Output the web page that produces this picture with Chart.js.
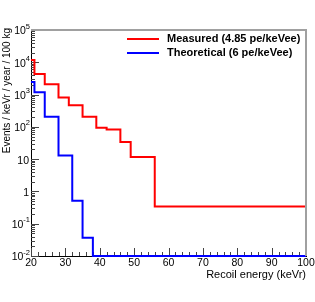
<!DOCTYPE html>
<html>
<head>
<meta charset="utf-8">
<script src="https://cdn.jsdelivr.net/npm/chart.js@4.4.0/dist/chart.umd.min.js"></script>
<style>
  body { margin: 0; background: #fff; }
  canvas { display: block; }
</style>
</head>
<body>
<canvas id="recoil-chart" width="315" height="302"></canvas>
<script>
// bin edges (keVr) and contents per bin
const measuredEdges = [20, 21, 24, 28, 31, 35, 39, 42, 46, 49, 56, 100]
const measuredValues = [11700, 4300, 2100, 810, 470, 205, 93, 83, 34, 11.7, 0.34]
const theoryEdges = [20, 21, 24, 28, 32, 35, 38, 100]
const theoryValues = [2440, 1190, 205, 12.9, 0.51, 0.037, 0.01]

const xTicks = [20, 30, 40, 50, 60, 70, 80, 90, 100]
const yDecades = [-2, -1, 0, 1, 2, 3, 4, 5]

const FONT = '"Liberation Sans", Arial, Helvetica, sans-serif'

function stepPoints(edges, values) {
  const pts = values.map((v, i) => ({x: edges[i], y: v}))
  pts.push({x: edges[edges.length-1], y: values[values.length-1]})
  return pts
}

// ROOT-like inner ticks, under the histograms
const innerTicks = {
  id: 'innerTicks',
  beforeDatasetsDraw(chart) {
    const ctx = chart.ctx
    const area = chart.chartArea
    const xs = chart.scales.x
    const ys = chart.scales.y
    ctx.save()
    ctx.strokeStyle = '#444'
    ctx.lineWidth = 1
    ctx.beginPath()
    for(let v=20; v<=100; v+=2) {
      const px = Math.round(xs.getPixelForValue(v)) + 0.5
      const len = v % 10 === 0 ? 8 : 4
      ctx.moveTo(px, area.bottom)
      ctx.lineTo(px, area.bottom-len)
    }
    for(let d=-2; d<5; d++) {
      for(let k=1; k<=9; k++) {
        const py = Math.round(ys.getPixelForValue(k*Math.pow(10, d))) + 0.5
        const len = k === 1 ? 8 : 4
        ctx.moveTo(area.left, py)
        ctx.lineTo(area.left+len, py)
      }
    }
    ctx.stroke()
    ctx.restore()
  }
}

const rootStyle = {
  id: 'rootStyle',
  afterDraw(chart) {
    const ctx = chart.ctx
    const area = chart.chartArea
    const xs = chart.scales.x
    const ys = chart.scales.y
    ctx.save()

    // grey frame top/right
    ctx.strokeStyle = '#a0a0a0'
    ctx.lineWidth = 2
    ctx.beginPath()
    ctx.moveTo(area.left, area.top)
    ctx.lineTo(area.right, area.top)
    ctx.lineTo(area.right, area.bottom)
    ctx.stroke()

    // x tick labels
    ctx.fillStyle = '#000'
    ctx.font = '10.5px ' + FONT
    ctx.textAlign = 'center'
    ctx.textBaseline = 'middle'
    xTicks.forEach(v => {
      ctx.fillText(String(v), xs.getPixelForValue(v), area.bottom + 7)
    })

    // y tick labels with superscripts
    ctx.textAlign = 'right'
    yDecades.forEach(d => {
      const py = ys.getPixelForValue(Math.pow(10, d)) + 1.5
      const right = area.left - 1
      if(d === 0 || d === 1) {
        ctx.font = '10.5px ' + FONT
        ctx.fillText(d === 0 ? '1' : '10', right - 1, py)
      } else {
        ctx.font = '7.5px ' + FONT
        const exp = String(d)
        const ew = ctx.measureText(exp).width
        ctx.fillText(exp, right, py-5)
        ctx.font = '10.5px ' + FONT
        ctx.fillText('10', right-ew, py)
      }
    })

    // axis titles
    ctx.font = '11px ' + FONT
    ctx.textAlign = 'right'
    ctx.textBaseline = 'alphabetic'
    ctx.fillText('Recoil energy (keVr)', area.right, 278)
    ctx.font = '10px ' + FONT
    ctx.save()
    ctx.translate(10, area.top-2)
    ctx.rotate(-Math.PI/2)
    ctx.fillText('Events / keVr / year / 100 kg', 0, 0)
    ctx.restore()

    // legend
    const entries = [
      {label: 'Measured (4.85 pe/keVee)', color: '#ff0000', y: 39},
      {label: 'Theoretical (6 pe/keVee)', color: '#0000ff', y: 53}
    ]
    ctx.font = 'bold 11px ' + FONT
    ctx.textAlign = 'left'
    ctx.textBaseline = 'middle'
    entries.forEach(e => {
      ctx.strokeStyle = e.color
      ctx.lineWidth = 2
      ctx.beginPath()
      ctx.moveTo(127, e.y)
      ctx.lineTo(159, e.y)
      ctx.stroke()
      ctx.fillStyle = '#000'
      ctx.fillText(e.label, 167, e.y)
    })
    ctx.restore()
  }
}

const context = document.getElementById('recoil-chart').getContext('2d')
new Chart(context, {
  type: 'line',
  data: {
    datasets: [{
      label: 'Measured (4.85 pe/keVee)',
      data: stepPoints(measuredEdges, measuredValues),
      borderColor: '#ff0000',
      borderWidth: 2,
      pointRadius: 0,
      stepped: true,
      fill: false,
      clip: false
    }, {
      label: 'Theoretical (6 pe/keVee)',
      data: stepPoints(theoryEdges, theoryValues),
      borderColor: '#0000ff',
      borderWidth: 2,
      pointRadius: 0,
      stepped: true,
      fill: false,
      clip: false
    }]
  },
  options: {
    responsive: false,
    animation: false,
    layout: {padding: {left: 0, right: 9, top: 30, bottom: 0}},
    plugins: {legend: {display: false}, tooltip: {enabled: false}},
    scales: {
      x: {
        type: 'linear',
        min: 20,
        max: 100,
        afterFit: scale => { scale.height = 46; scale.paddingLeft = 0; scale.paddingRight = 0 },
        grid: {display: false},
        border: {display: true, color: '#000', width: 1},
        ticks: {display: false}
      },
      y: {
        type: 'logarithmic',
        min: 0.01,
        max: 100000,
        afterFit: scale => { scale.width = 31 },
        grid: {display: false},
        border: {display: true, color: '#000', width: 1},
        ticks: {display: false}
      }
    }
  },
  plugins: [innerTicks, rootStyle]
})
</script>
</body>
</html>
